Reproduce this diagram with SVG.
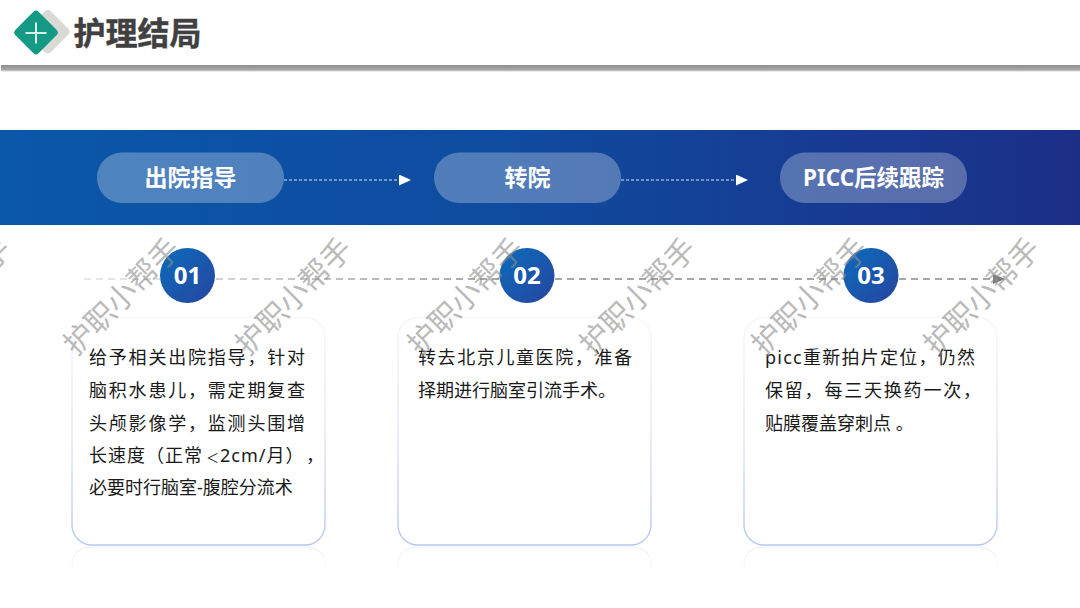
<svg xmlns="http://www.w3.org/2000/svg" width="1080" height="608" viewBox="0 0 1080 608">
<style>
text{font-family:"Liberation Sans","Noto Sans CJK SC",sans-serif}
.pill{fill:#fff;fill-opacity:.28}
.pt{font-size:23px;font-weight:700;fill:#fff;text-anchor:middle;font-family:"Noto Sans","Noto Sans CJK SC",sans-serif}
.card{fill:#fff;stroke:url(#cs);stroke-width:1.4}
.refl{fill:none;stroke:url(#rs);stroke-width:1.2}
.body{font-size:18px;fill:#1a1a1a;font-family:"Noto Sans","Noto Sans CJK SC",sans-serif}
.num{font-size:24px;font-weight:700;fill:#fff;text-anchor:middle;font-family:"Open Sans","Noto Sans",sans-serif}
.wm{font-size:30px;fill:#8c8c8c;fill-opacity:.6;text-anchor:middle;font-family:"Noto Sans CJK SC",sans-serif}
.flow{stroke:#d5e3f3;stroke-width:1;stroke-dasharray:3 2;fill:none}
.axis{stroke:#8a8a8a;stroke-width:1.5;stroke-dasharray:7 5;fill:none}
</style>
<defs>
<linearGradient id="band" x1="0" x2="1" y1="0" y2="0"><stop offset="0" stop-color="#0b57a8"/><stop offset=".45" stop-color="#0f4ca0"/><stop offset="1" stop-color="#1c2f87"/></linearGradient>
<linearGradient id="disc" x1="0" x2="1" y1="0" y2="1"><stop offset="0" stop-color="#0b6cbb"/><stop offset="1" stop-color="#27459f"/></linearGradient>
<linearGradient id="cs" x1="0" x2="0" y1="0" y2="1"><stop offset="0" stop-color="#f6f6fb"/><stop offset=".5" stop-color="#e2e6f8"/><stop offset="1" stop-color="#b8c6ee"/></linearGradient>
<linearGradient id="rs" x1="0" x2="0" y1="0" y2="1"><stop offset="0" stop-color="#eef0f8"/><stop offset="1" stop-color="#fff"/></linearGradient>
<linearGradient id="axisfade" gradientUnits="userSpaceOnUse" x1="84" x2="1005" y1="0" y2="0"><stop offset="0" stop-color="#e2e2e2"/><stop offset=".45" stop-color="#8a8a8a"/><stop offset="1" stop-color="#7d7d7d"/></linearGradient>
<linearGradient id="shadow" x1="0" x2="0" y1="0" y2="1"><stop offset="0" stop-color="#8f8f8f"/><stop offset=".7" stop-color="#a8a8a8"/><stop offset="1" stop-color="#fff"/></linearGradient>
<marker id="ah" markerWidth="12" markerHeight="12" refX="0" refY="5.500" orient="auto" markerUnits="userSpaceOnUse"><path d="M0 0L12 5.500L0 11Z" fill="#fff"/></marker>
</defs>
<rect width="1080" height="608" fill="#fff"/>
<g id="header">
<rect x="1" y="65" width="1079" height="7" fill="url(#shadow)"/>
<rect x="31" y="15" width="33" height="33" rx="4" transform="rotate(45 47.500 32)" fill="#d9d9d6"/>
<rect x="19.500" y="16" width="33" height="33" rx="4" transform="rotate(45 36 32.500)" fill="#149a84"/>
<path d="M25.500 33H46.500M36 22.500V43.500" stroke="#d9efe9" stroke-width="2" fill="none"/>
<text x="73.500" y="45" font-size="32" font-weight="700" fill="#404040" stroke="#404040" stroke-width=".4" style="font-family:'Noto Sans CJK SC',sans-serif">护理结局</text>
</g>
<rect id="band-bg" x="0" y="130" width="1080" height="95" fill="url(#band)"/>
<g id="connectors">
<path class="flow" d="M284 180H399" marker-end="url(#ah)"/>
<path class="flow" d="M621 180H736" marker-end="url(#ah)"/>
<path d="M84 279H160M216 279H499" stroke="url(#axisfade)" stroke-width="1.500" stroke-dasharray="7 5" fill="none"/>
<path class="axis" d="M555 279H844M899 279H993"/>
<path d="M993 274L1005 279L993 284Z" fill="#7d7d7d"/>
</g>
<g id="step-1"><rect class="pill" x="97" y="152.500" width="187" height="50.500" rx="25"/><text class="pt" x="190.500" y="186">出院指导</text></g>
<g id="step-2"><rect class="pill" x="434" y="152.500" width="187" height="50.500" rx="25"/><text class="pt" x="527.500" y="186">转院</text></g>
<g id="step-3"><rect class="pill" x="780" y="152.500" width="187" height="50.500" rx="25"/><text class="pt" x="873.500" y="186" style="font-size:22.500px">PICC后续跟踪</text></g>
<g id="card-1">
<path class="refl" d="M72 575V565Q72 548 92 547H305Q325 548 325 565V575"/>
<rect class="card" x="72" y="317.500" width="253" height="227.500" rx="20"/>
<circle cx="187.500" cy="275.500" r="27.500" fill="url(#disc)"/>
<text class="num" x="187.500" y="284">01</text>
<text class="body"><tspan x="89" y="364" letter-spacing="1.800">给予相关出院指导，针对</tspan><tspan x="89" y="397" letter-spacing="1.800">脑积水患儿，需定期复查</tspan><tspan x="89" y="430" letter-spacing="1.800">头颅影像学，监测头围增</tspan><tspan x="89" y="462" letter-spacing="1">长速度（正常</tspan><tspan x="206" y="462" font-size="13">＜</tspan><tspan x="220" y="462" letter-spacing="1">2cm/月）</tspan><tspan x="306" y="462">，</tspan><tspan x="89" y="494" letter-spacing="0">必要时行脑室-腹腔分流术</tspan></text>
</g>
<g id="card-2">
<path class="refl" d="M398 575V565Q398 548 418 547H631Q651 548 651 565V575"/>
<rect class="card" x="398" y="317.500" width="253" height="227.500" rx="20"/>
<circle cx="527" cy="275.500" r="27.500" fill="url(#disc)"/>
<text class="num" x="527" y="284">02</text>
<text class="body"><tspan x="418" y="364" letter-spacing="1.600">转去北京儿童医院，准备</tspan><tspan x="418" y="397" letter-spacing="0">择期进行脑室引流手术。</tspan></text>
</g>
<g id="card-3">
<path class="refl" d="M744 575V565Q744 548 764 547H977Q997 548 997 565V575"/>
<rect class="card" x="744" y="317.500" width="253" height="227.500" rx="20"/>
<circle cx="871" cy="275.500" r="27.500" fill="url(#disc)"/>
<text class="num" x="871" y="284">03</text>
<text class="body"><tspan x="765" y="364" letter-spacing="1.250">picc重新拍片定位，仍然</tspan><tspan x="765" y="397" letter-spacing="1.800">保留，每三天换药一次，</tspan><tspan x="765" y="430" letter-spacing="0">贴膜覆盖穿刺点 。</tspan></text>
</g>
<g id="watermarks">
<text class="wm" transform="translate(-47 297) rotate(-45)" y="10">护职小帮手</text>
<text class="wm" transform="translate(122 297) rotate(-45)" y="10">护职小帮手</text>
<text class="wm" transform="translate(294 297) rotate(-45)" y="10">护职小帮手</text>
<text class="wm" transform="translate(466 297) rotate(-45)" y="10">护职小帮手</text>
<text class="wm" transform="translate(638 297) rotate(-45)" y="10">护职小帮手</text>
<text class="wm" transform="translate(810 297) rotate(-45)" y="10">护职小帮手</text>
<text class="wm" transform="translate(982 297) rotate(-45)" y="10">护职小帮手</text>
</g>
</svg>
